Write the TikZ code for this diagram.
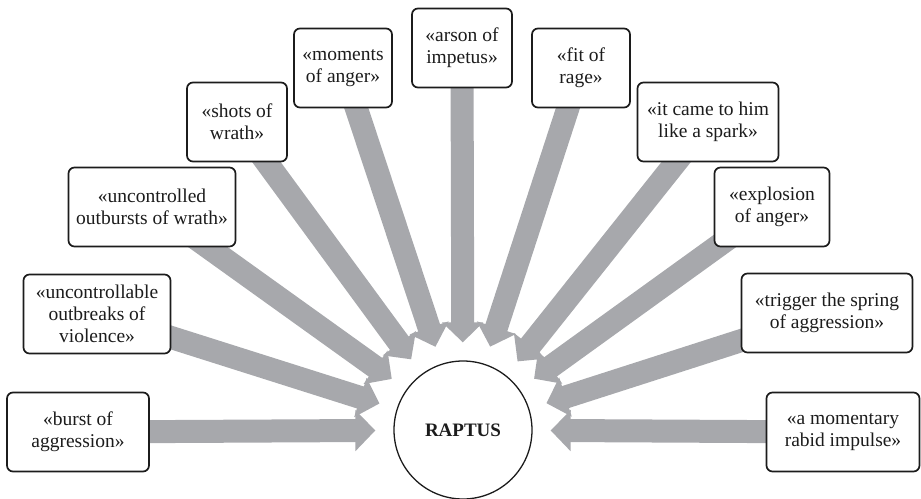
\documentclass[tikz,border=0pt]{standalone}
\usepackage{fontspec}
\setmainfont{Liberation Serif}
\usetikzlibrary{arrows.meta,backgrounds}
\definecolor{arrowgray}{HTML}{A7A8AC}
\definecolor{inkdark}{HTML}{1C1C1C}
\begin{document}
\begin{tikzpicture}[
        x=1pt, y=-1pt,
        quote/.style={draw=inkdark, line width=1.7pt, rounded corners=6pt, fill=white,
            minimum height=79pt, inner sep=2pt, align=center, text=inkdark,
            font=\fontsize{19.5}{22}\selectfont},
        center/.style={circle, draw=inkdark, line width=1.3pt, fill=white,
            minimum size=138pt, inner sep=0pt, text=inkdark,
            font=\fontsize{19}{22}\selectfont\bfseries},
        bigarrow/.style={arrowgray, line width=23pt,
            -{Triangle[length=20pt, width=40pt]}, shorten >=18pt}
    ]
        \useasboundingbox (0,0) rectangle (921,498);

        % Mitte
        \node[center] (R) at (463,430) {RAPTUS};

        % Zitate, links unten bis rechts unten
        \node[quote, minimum width=142pt] (Q1) at (78,432) {«burst of\\aggression»};
        \node[quote, minimum width=147pt] (Q2) at (97,314) {«uncontrollable\\outbreaks of\\violence»};
        \node[quote, minimum width=167pt] (Q3) at (152,207) {«uncontrolled\\outbursts of wrath»};
        \node[quote, minimum width=100pt] (Q4) at (237,122) {«shots of\\wrath»};
        \node[quote, minimum width=98pt]  (Q5) at (343,68)  {«moments\\of anger»};
        \node[quote, minimum width=100pt] (Q6) at (462,48)  {«arson of\\impetus»};
        \node[quote, minimum width=98pt]  (Q7) at (581,68)  {«fit of\\rage»};
        \node[quote, minimum width=141pt] (Q8) at (708,122) {«it came to him\\like a spark»};
        \node[quote, minimum width=115pt] (Q9) at (772,207) {«explosion\\of anger»};
        \node[quote, minimum width=171pt] (Q10) at (827,313) {«trigger the spring\\of aggression»};
        \node[quote, minimum width=153pt] (Q11) at (843,432) {«a momentary\\rabid impulse»};

        % Pfeile zur Mitte
        \begin{scope}[on background layer]
            \foreach \i in {1,...,11}
                \draw[bigarrow] (Q\i.center) -- (R);
        \end{scope}

    \end{tikzpicture}
\end{document}
